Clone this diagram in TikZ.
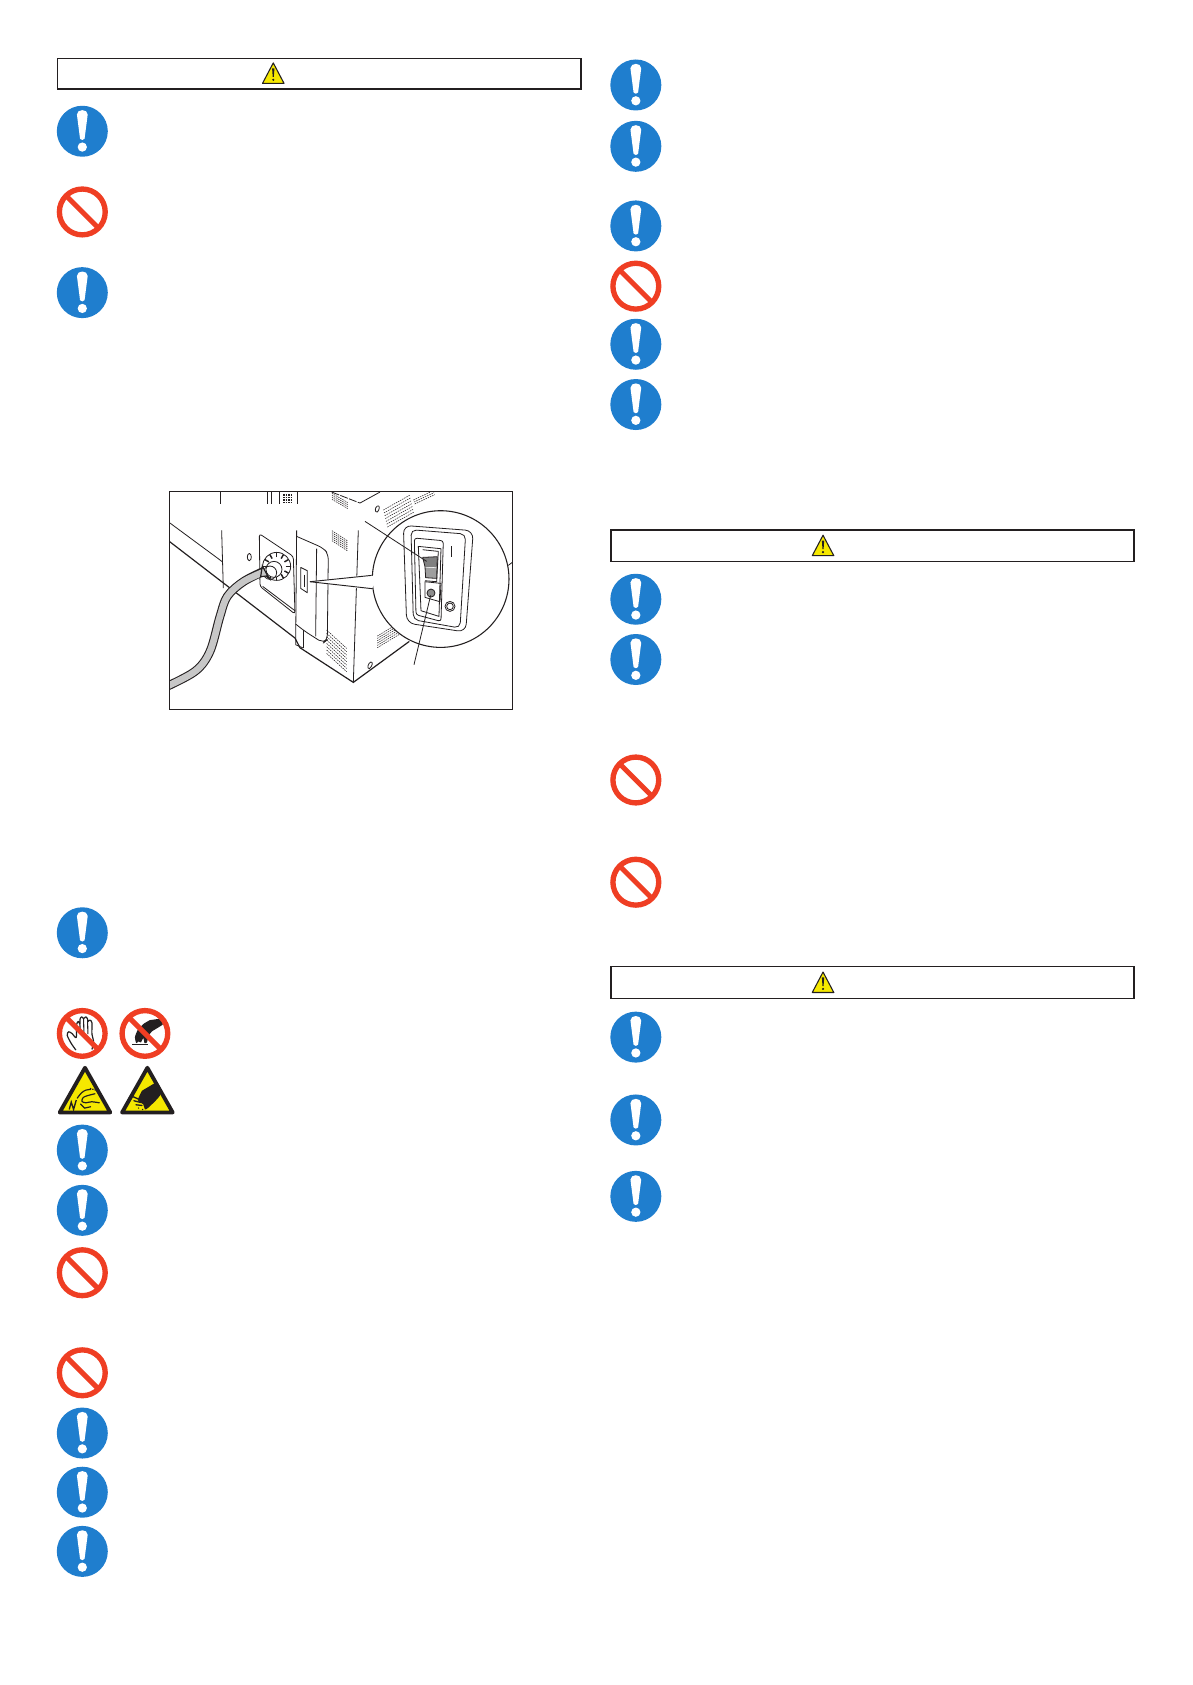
\documentclass[tikz,border=0pt]{standalone}
\definecolor{iblue}{HTML}{1F7ECE}
\definecolor{ired}{HTML}{EF3E23}
\definecolor{iyel}{HTML}{F5E800}
\definecolor{iblk}{HTML}{231F20}
\newcommand{\hatchlines}[7]{\foreach \i in {0,...,#7}{\draw[thin line,dash pattern=on 1.1pt off .7pt] ({#1+\i*#5},{#2+\i*#6}) -- ++(#3,#4);}}
\tikzset{
  thin line/.style={line width=.4pt,draw=iblk},
  ill line/.style={line width=.6pt,draw=iblk,line join=round},
  heavy line/.style={line width=.9pt,draw=iblk},
  banner/.style={line width=1.2pt,draw=iblk,fill=white},
  ring/.style={line width=4pt,draw=ired},
  bluei/.pic={
    \fill[iblue] (0,0) circle (23.7);
    \fill[white] (-5,-15.5) .. controls (-5,-21) and (5,-21) .. (5,-15.5) -- (2.1,7) .. controls (1.8,8.5) and (-1.8,8.5) .. (-2.1,7) -- cycle;
    \fill[white] (0,14.7) circle (4.3);
  },
  redi/.pic={
    \draw[ring] (0,0) circle (21.3);
    \draw[line width=3.8pt,draw=ired] (-15,-15) -- (15,15);
  },
  warn/.pic={
    \filldraw[line width=.8pt,draw=iblk,fill=iyel,line join=round] (-10,9.5) -- (0,-9.5) -- (10,9.5) -- cycle;
    \fill[iblk] (-1.1,-4.5) -- (1.1,-4.5) -- (.5,3.5) -- (-.5,3.5) -- cycle;
    \fill[iblk] (0,6.2) circle (1.1);
  },
  tri/.pic={
    \filldraw[line width=2.9pt,draw=iblk,fill=iyel,line join=round] (-23.5,21.5) -- (0,-20) -- (23.5,21.5) -- cycle;
  },
}
\begin{document}
\begin{tikzpicture}[x=0.80686pt,y=-0.80686pt]
\useasboundingbox[fill=white] (0,0) rectangle (1108,1566.2);
% banners
\draw[banner] (53.5,54.5) rectangle (540,83);
\draw[banner] (568,492.5) rectangle (1054,522);
\draw[banner] (568,898.5) rectangle (1054,928);
\pic at (254,68) {warn};
\pic at (765,507) {warn};
\pic at (765,913) {warn};
% left column icons
\foreach \y in {122,272,867,1069,1125,1332,1387,1442} {\pic at (76.5,\y) {bluei};}
\foreach \y in {197,1183,1276} {\pic at (76.5,\y) {redi};}
% right column icons
\foreach \y in {79,136,210,320,376,557,613,964,1041,1112} {\pic at (591,\y) {bluei};}
\foreach \y in {266,725,820} {\pic at (591,\y) {redi};}
% do-not-touch icon (open hand)
\begin{scope}[shift={(46.4,930.2)},x=0.25pt,y=-0.25pt]
  \draw[line width=.9pt,draw=iblk,fill=white,line join=round] plot[smooth,tension=.5] coordinates {(78,148)(64,128)(52,104)(56,93)(66,98)(79,110)(80,72)(85,62)(90,70)(90,56)(95,48)(101,54)(103,52)(108,48)(113,55)(114,62)(120,58)(126,66)(126,100)(131,122)(126,146)};
  \draw[line width=.8pt,draw=iblk] (90,70) -- (91,100) (101,54) -- (102,98) (113,60) -- (114,100);
  \draw[ring] (97,98) circle (68.5);
  \draw[line width=3.8pt,draw=ired] (49,50) -- (145,146);
\end{scope}
% do-not-touch icon (hot surface)
\begin{scope}[shift={(46.4,930.2)},x=0.25pt,y=-0.25pt]
  \fill[iblk] plot[smooth,tension=.4] coordinates {(337,53)(340,70)(306,92)(296,106)(291,125)(284,127)(280,112)(273,125)(266,122)(259,127)(255,110)(262,90)(280,70)(300,58)} -- cycle;
  \draw[line width=1.1pt,draw=iblk] (247,131) -- (293,131);
  \draw[ring] (285,98) circle (68.5);
  \draw[line width=3.8pt,draw=ired] (237,50) -- (333,146);
\end{scope}
% warning triangles
\pic at (79,1012.5) {tri};
\pic at (137,1012.5) {tri};
\begin{scope}[shift={(46.4,930.2)},x=0.25pt,y=-0.25pt]
  % pinched fingers
  \draw[line width=.9pt,draw=iblk,line join=round,line cap=round] plot[smooth,tension=.5] coordinates {(82,292)(95,276)(108,268)(122,266)};
  \draw[line width=.9pt,draw=iblk,line join=round,line cap=round] plot[smooth,tension=.5] coordinates {(148,306)(125,303)(108,306)(96,302)(100,290)(115,284)(135,279)};
  \draw[line width=.9pt,draw=iblk,line cap=round] (92,310) -- (104,322) -- (122,318);
  \draw[line width=.9pt,draw=iblk,dash pattern=on 1pt off .8pt] (120,263) -- (138,268);
  \draw[line width=1pt,draw=iblk,line join=miter] (58,326) -- (64,304) -- (71,326) -- (79,298);
  % crushed hand
  \fill[iblk] plot[smooth,tension=.4] coordinates {(318,245)(331,282)(296,320)(285,326)(280,311)(264,298)(276,270)} -- cycle;
  \draw[line width=1pt,draw=iblk,line cap=round] (250,288) -- (268,296) (252,300) -- (272,305) (258,312) -- (276,314);
  \fill[iblk] (266,322) circle (2.2) (278,326) circle (2.2);
\end{scope}
% illustration
\begin{scope}[shift={(139.4,446.2)},x=0.25pt,y=-0.25pt]
  \begin{scope}
  \clip (58,35) rectangle (1088,688);
  % upper band fragments
  \draw[ill line] (212,36) -- (212,71);
  \draw[ill line] (352,36) -- (352,71) (363,36) -- (363,71) (387,36) -- (387,71) (443,36) -- (443,71);
  \hatchlines{400}{42}{24}{0}{0}{5}{5}
  \hatchlines{546}{40}{48}{28}{0}{6}{3}
  \draw[ill line,dash pattern=on 6pt off 1pt] (545,36) -- (630,69);
  \draw[ill line] (630,69) -- (690,36);
  \hatchlines{700}{90}{80}{-45}{2}{8.5}{6}
  \hatchlines{790}{60}{60}{-28}{2}{6}{2}
  \draw[ill line] (682,78) .. controls (690,74) and (690,88) .. (682,96) .. controls (674,98) and (674,82) .. (682,78);
  % machine outline
  \draw[ill line] (215,151) -- (220,324);
  \draw[ill line] (60,129) -- (205,236) -- (218,246);
  \draw[heavy line] (58,184) -- (435,474) -- (450,503) -- (610,607) -- (778,484);
  \draw[ill line] (625,151) -- (610,607);
  % plate
  \draw[ill line,fill=white,rounded corners=2pt] (328,161) -- (430,229) -- (435,402) -- (330,319) -- cycle;
  \draw[ill line] (338,319) -- (435,392);
  \draw[ill line] (295,230) ellipse (0pt and 0pt);
  \draw[ill line] (298,220) .. controls (306,222) and (306,240) .. (298,242) .. controls (290,240) and (290,222) .. (298,220);
  % door panel
  \draw[ill line] (440,151) -- (437,494) -- (460,504);
  \draw[ill line,rounded corners=4pt] (440,169) -- (520,204) -- (535,222) -- (532,479) -- (520,489) -- (465,454) -- (437,432);
  \draw[ill line] (500,206) -- (497,469);
  \draw[ill line] (460,449) -- (460,504);
  \hatchlines{546}{152}{46}{30}{0}{6}{5}
  \hatchlines{530}{450}{60}{55}{0}{10}{7}
  \hatchlines{682}{468}{66}{-40}{0}{7}{5}
  \draw[ill line] (662,546) .. controls (670,544) and (668,558) .. (658,566) .. controls (650,566) and (654,550) .. (662,546);
  % slot
  \draw[ill line,fill=white] (452,262) -- (472,272) -- (472,338) -- (452,325) -- cycle;
  \draw[line width=1.1pt,draw=iblk] (463,284) -- (463,320);
  % cable
  \draw[line width=6.6pt,draw=iblk,line cap=butt] plot[smooth,tension=.55] coordinates {(40,624)(135,574)(180,514)(210,409)(232,349)(280,305)(345,272)};
  \draw[line width=5pt,draw=black!22,line cap=butt] plot[smooth,tension=.55] coordinates {(40,624)(135,574)(180,514)(210,409)(232,349)(280,305)(345,274)};
  % gland
  \draw[ill line,fill=white] (380,259) circle (42);
  \foreach \a in {0,30,...,330}{\draw[line width=1.1pt,draw=iblk] ({380+27*cos(\a)},{259+27*sin(\a)}) -- ({380+41*cos(\a)},{259+41*sin(\a)});}
  \draw[ill line,fill=white] (372,268) circle (24);
  \draw[ill line] (360,278) circle (20);
  \draw[line width=.9pt,draw=iblk,fill=black!22] (337,258) -- (358,296) -- (348,288) -- (332,290) -- cycle;
  % magnifier
  \draw[line width=.8pt,draw=iblk,fill=white] (872,297) circle (205);
  \fill[white] (480,305) -- (660,282) -- (680,297) -- (664,330) -- cycle;
  \draw[line width=.7pt,draw=iblk] (480,305) -- (665,286);
  \draw[line width=.7pt,draw=iblk] (480,305) -- (668,326);
  \draw[ill line] (1075,256) -- (1088,246);
  % panels inside magnifier
  \draw[ill line,rounded corners=6pt] (760,136) -- (970,152) -- (947,456) -- (770,429) -- cycle;
  \draw[ill line,rounded corners=4pt] (783,149) -- (947,162) -- (930,444) -- (790,419) -- cycle;
  \draw[ill line,rounded corners=2pt] (793,174) -- (880,182) -- (873,424) -- (798,404) -- cycle;
  \draw[ill line] (805,199) -- (873,206) -- (867,409) -- (813,392) -- cycle;
  \draw[ill line] (818,209) -- (865,214) -- (860,305) -- (825,302);
  \draw[ill line] (905,199) -- (905,232);
  % rocker
  \fill[black!50] (818,232) -- (862,230) -- (860,262) -- (825,260) -- cycle;
  \fill[black!38] (825,262) -- (862,265) -- (860,295) -- (827,293) -- cycle;
  \draw[ill line] (818,232) -- (862,230) -- (860,295) -- (827,293) -- (825,260) -- (818,232);
  \draw[ill line] (825,305) -- (873,310) -- (870,365) -- (825,352) -- cycle;
  \draw[ill line,fill=black!45] (843,339) circle (12);
  \draw[ill line] (900,379) circle (15);
  \draw[ill line] (900,379) circle (10);
  % leader lines
  \draw[ill line] (645,124) -- (830,244);
  \draw[ill line] (792,554) -- (842,346);
  \end{scope}
  \draw[line width=.75pt,draw=iblk] (58,35) rectangle (1088,688);
\end{scope}
\end{tikzpicture}
\end{document}
